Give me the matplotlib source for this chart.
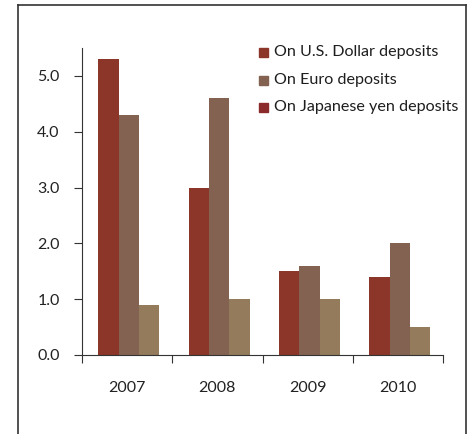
import matplotlib
matplotlib.use("Agg")
import matplotlib.pyplot as plt
from matplotlib.lines import Line2D
from matplotlib.patches import Rectangle
import numpy as np

years = ["2007", "2008", "2009", "2010"]
usd = [5.3, 3.0, 1.5, 1.4]
euro = [4.3, 4.6, 1.6, 2.0]
yen = [0.9, 1.0, 1.0, 0.5]
series_names = ["On U.S. Dollar deposits", "On Euro deposits", "On Japanese yen deposits"]
bar_colors = ["#8c3529", "#846251", "#937b5c"]
legend_colors = ["#8c3529", "#846251", "#8b2a2a"]
y_ticks = [0.0, 1.0, 2.0, 3.0, 4.0, 5.0]

plt.rcParams["font.family"] = ["Lato", "DejaVu Sans"]
W, H = 470, 434
fig = plt.figure(figsize=(W / 100, H / 100), dpi=100)

def fx(px):
    return px / W

def fy(py):
    return 1 - py / H

# outer frame (open at the bottom)
frame_kw = dict(color="#333333", lw=1.2, transform=fig.transFigure)
fig.add_artist(Line2D([fx(18), fx(18)], [0, fy(5)], **frame_kw))
fig.add_artist(Line2D([fx(18), fx(466)], [fy(5), fy(5)], **frame_kw))
fig.add_artist(Line2D([fx(466), fx(466)], [fy(5), 0], **frame_kw))

ax = fig.add_axes([fx(82), fy(355), fx(443) - fx(82), fy(48) - fy(355)])
x = np.arange(len(years))
bw = 0.225
for i, (vals, c) in enumerate(zip([usd, euro, yen], bar_colors)):
    ax.bar(x + (i - 1) * bw + 0.02, vals, width=bw, color=c, linewidth=0)

ax.set_xlim(-0.5, len(years) - 0.5)
ax.set_ylim(0, 5.5)
ax.set_yticks(y_ticks)
ax.set_yticklabels([f"{v:.1f}" for v in y_ticks])
ax.set_xticks(np.arange(len(years) + 1) - 0.5)
ax.set_xticklabels([])
ax.set_xticks(x, minor=True)
ax.set_xticklabels(years, minor=True)
ax.tick_params(axis="x", which="minor", length=0, pad=19, labelsize=11.5, colors="#222222")
ax.tick_params(axis="x", which="major", length=6, direction="out", color="#333333")
ax.tick_params(axis="y", length=6, direction="out", color="#333333", labelsize=11.5,
               labelcolor="#222222", pad=10)
for s in ["top", "right"]:
    ax.spines[s].set_visible(False)
ax.spines["left"].set_color("#333333")
ax.spines["bottom"].set_color("#333333")

# legend drawn as text with square markers
leg_y = [52, 80, 107]
for name, c, py in zip(series_names, legend_colors, leg_y):
    fig.add_artist(Rectangle((fx(259), fy(py + 5)), fx(9), fy(0) - fy(9), color=c,
                             transform=fig.transFigure))
    fig.text(fx(274), fy(py), name, fontsize=11.6, color="#1e1e1e", va="center", ha="left")

fig.savefig("out.png", dpi=100)
